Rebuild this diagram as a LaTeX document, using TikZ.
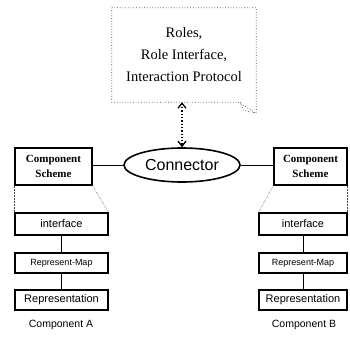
\documentclass[tikz,border=0pt]{standalone}
\usepackage{fontspec}
\setmainfont{Liberation Serif}
\setsansfont{Liberation Sans}
\usetikzlibrary{shapes.geometric,arrows.meta}

\tikzset{
  notetext/.style={align=center, font=\fontsize{14.5}{22}\selectfont, inner sep=0pt},
  connbox/.style={ellipse, draw, line width=1.6pt, minimum width=116pt, minimum height=34pt, inner sep=0pt,
                  font=\sffamily\fontsize{16}{18}\selectfont},
  schemebox/.style={draw, line width=1.1pt, minimum height=37pt, inner sep=0pt, align=center,
                    font=\bfseries\fontsize{11}{15}\selectfont},
  partbox/.style={draw, line width=1.1pt, inner sep=0pt, font=\sffamily},
  complabel/.style={font=\sffamily\fontsize{10.5}{12}\selectfont, inner sep=0pt},
  link/.style={line width=0.9pt},
  refine/.style={densely dotted, line width=0.5pt, black!70},
  notepath/.style={dotted, line width=0.7pt, black!75},
  assoc/.style={dotted, line width=1.3pt, {Straight Barb[length=5pt,width=8pt,line width=1.3pt]}-{Straight Barb[length=5pt,width=8pt,line width=1.3pt]}}
}

\begin{document}
\begin{tikzpicture}[x=1pt, y=-1pt]
  \useasboundingbox (0,0) rectangle (350,342);

  % note with the connector's specification
  \node[notetext, minimum width=144pt, minimum height=94pt] (note) at (184,55)
    {Roles,\\Role Interface,\\Interaction Protocol};
  \draw[notepath] (note.north west) -- (note.north east) -- ([yshift=-11pt]note.south east)
    -- ([xshift=-18pt]note.south east) -- (note.south west) -- cycle;
  \draw[notepath] ([xshift=-16pt]note.south east) -- ([xshift=-13pt,yshift=-8pt]note.south east)
    -- ([yshift=-11pt]note.south east);

  % the connector
  \node[connbox] (conn) at (182,165) {Connector};

  % component schemes
  \node[schemebox, minimum width=77pt] (schA) at (53.5,166.5) {Component\\Scheme};
  \node[schemebox, minimum width=73pt] (schB) at (310.5,166.5) {Component\\Scheme};

  % component A parts
  \node[partbox, minimum width=93pt, minimum height=22pt, font=\sffamily\fontsize{11}{12}\selectfont] (ifA) at (61.5,224) {interface};
  \node[partbox, minimum width=93pt, minimum height=20pt, font=\sffamily\fontsize{9}{10}\selectfont] (mapA) at (61.5,263) {Represent-Map};
  \node[partbox, minimum width=93pt, minimum height=20pt, font=\sffamily\fontsize{11}{12}\selectfont] (repA) at (61.5,300) {Representation};
  \node[complabel] (labA) at (61,325) {Component A};

  % component B parts
  \node[partbox, minimum width=88pt, minimum height=22pt, font=\sffamily\fontsize{11}{12}\selectfont] (ifB) at (303,224) {interface};
  \node[partbox, minimum width=88pt, minimum height=20pt, font=\sffamily\fontsize{9}{10}\selectfont] (mapB) at (303,263) {Represent-Map};
  \node[partbox, minimum width=88pt, minimum height=20pt, font=\sffamily\fontsize{11}{12}\selectfont] (repB) at (303,300) {Representation};
  \node[complabel] (labB) at (304,325) {Component B};

  % connector to the note
  \draw[assoc] (note.south -| conn.north) -- (conn.north);

  % connector to the schemes
  \draw[link] (conn.west) -- (conn.west -| schA.east);
  \draw[link] (conn.east) -- (conn.east -| schB.west);

  % scheme refinement
  \draw[refine] (schA.south west) -- (ifA.north west);
  \draw[refine] (schA.south east) -- (ifA.north east);
  \draw[refine] (schB.south west) -- (ifB.north west);
  \draw[refine] (schB.south east) -- (ifB.north east);

  % part stacks
  \draw[link] (ifA.south) -- (mapA.north);
  \draw[link] (mapA.south) -- (repA.north);
  \draw[link] (ifB.south) -- (mapB.north);
  \draw[link] (mapB.south) -- (repB.north);
\end{tikzpicture}
\end{document}
